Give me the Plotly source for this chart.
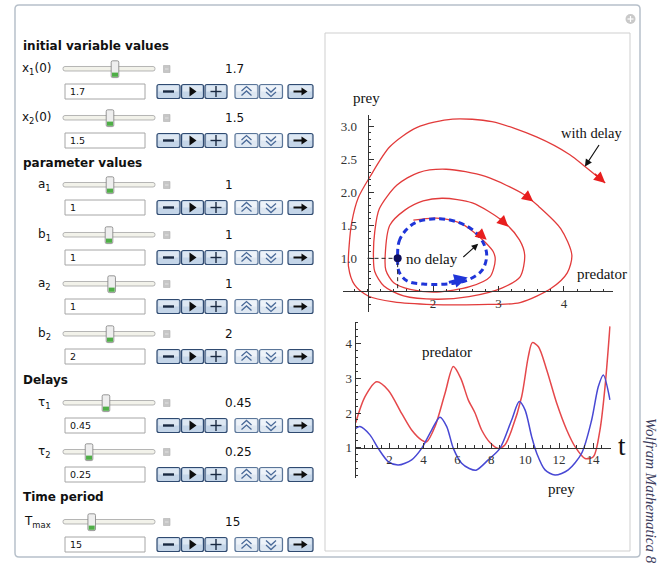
import plotly.graph_objects as go

W, H = 663, 567

# ---------------- data ----------------
# time series (bottom plot)
pred_t = [0, 0.55, 1.24, 1.92, 2.71, 3.30, 3.89, 4.19, 4.68, 5.27, 5.76, 6.2, 6.64, 7.04, 7.43, 7.92,
          8.41, 8.8, 9.2, 9.79, 10.18, 10.42, 10.78, 11.27, 11.86, 12.45, 12.94, 13.53, 14.02, 14.41, 14.71, 15.0]
pred_v = [1.72, 2.47, 2.90, 2.66, 1.99, 1.51, 1.22, 1.17, 1.61, 2.57, 3.34, 3.0, 2.38, 2.0, 1.51, 1.15,
          0.98, 1.08, 1.51, 2.47, 3.62, 4.03, 3.91, 3.24, 2.28, 1.51, 1.03, 0.69, 0.74, 1.51, 2.76, 4.5]
prey_t = [0, 0.25, 0.84, 1.33, 1.92, 2.51, 3.30, 3.89, 4.48, 4.97, 5.37, 5.76, 6.25, 6.7, 7.1, 7.82,
          8.51, 9.2, 9.65, 9.99, 10.38, 10.68, 11.17, 11.76, 12.54, 13.33, 13.92, 14.31, 14.61, 15.0]
prey_v = [1.56, 1.61, 1.37, 0.98, 0.60, 0.50, 0.65, 0.98, 1.51, 1.88, 1.61, 0.98, 0.55, 0.40, 0.35, 0.65,
          0.98, 1.80, 2.33, 2.09, 1.32, 0.84, 0.36, 0.21, 0.36, 0.84, 1.80, 2.76, 3.10, 2.38]

# phase plot, with delay (red spiral): predator (x) vs prey (y)
ph_pred = [1.70, 2.05, 2.40, 2.62, 2.80, 2.92, 2.95, 2.87, 2.56, 2.06, 1.65, 1.40, 1.28, 1.27,
           1.34, 1.57, 1.85, 2.15, 2.60, 3.07, 3.32, 3.40, 3.33, 3.05, 2.55, 2.06, 1.55, 1.25, 1.11, 1.09,
           1.11, 1.18, 1.45, 1.78, 2.20, 2.80, 3.40, 3.61, 3.95, 4.12, 4.05, 3.81, 3.33, 2.70, 2.00, 1.40, 1.01, 0.80, 0.71,
           0.72, 0.76, 0.86, 1.04, 1.34, 1.75, 2.30, 2.90, 3.58, 4.09, 4.32, 4.63]
ph_prey = [1.58, 1.61, 1.54, 1.40, 1.24, 1.10, 0.98, 0.72, 0.57, 0.49, 0.53, 0.63, 0.82, 1.05,
           1.50, 1.73, 1.87, 1.91, 1.84, 1.56, 1.28, 1.05, 0.72, 0.55, 0.42, 0.38, 0.43, 0.58, 0.80, 1.05,
           1.40, 1.75, 2.11, 2.30, 2.35, 2.24, 1.96, 1.79, 1.45, 1.05, 0.78, 0.55, 0.33, 0.30, 0.30, 0.34, 0.43, 0.60, 0.87,
           1.20, 1.55, 1.92, 2.24, 2.69, 2.98, 3.11, 3.07, 2.84, 2.57, 2.39, 2.14]
# arrowheads along the red spiral (tip / tail)
arr_tip_x = [2.82, 3.15, 3.53, 4.63]
arr_tip_y = [1.28, 1.48, 1.86, 2.14]
arr_tail_x = [2.66, 3.00, 3.38, 4.45]
arr_tail_y = [1.42, 1.62, 1.98, 2.30]

# phase plot, no delay (blue dashed orbit)
nd_pred = [1.46, 1.48, 1.58, 1.75, 2.10, 2.40, 2.62, 2.76, 2.82, 2.75, 2.55, 2.30, 1.85, 1.60, 1.48, 1.46]
nd_prey = [1.00, 1.25, 1.42, 1.55, 1.60, 1.54, 1.42, 1.25, 1.05, 0.82, 0.68, 0.62, 0.61, 0.66, 0.80, 1.00]
nd_arrow = [2.22, 0.63, 2.53, 0.71]        # tail x, tail y, tip x, tip y
dot_pt = [1.46, 1.0]
axis_origin = [1.0, 0.5]

# tick labels
ph_xticks = [2, 3, 4]
ph_yticks = [1.0, 1.5, 2.0, 2.5, 3.0]
ts_xticks = [2, 4, 6, 8, 10, 12, 14]
ts_yticks = [1, 2, 3, 4]

# control panel content
sections = ["initial variable values", "parameter values", "Delays", "Time period"]
ctrl_labels = ["x<sub>1</sub>(0)", "x<sub>2</sub>(0)", "a<sub>1</sub>", "b<sub>1</sub>", "a<sub>2</sub>",
               "b<sub>2</sub>", "τ<sub>1</sub>", "τ<sub>2</sub>", "T<sub>max</sub>"]
ctrl_values = ["1.7", "1.5", "1", "1", "1", "2", "0.45", "0.25", "15"]
ctrl_thumb = [0.565, 0.511, 0.511, 0.50, 0.529, 0.511, 0.467, 0.283, 0.312]

# ---------------- layout geometry (pixels) ----------------
section_y = [46, 163, 380, 497]
row_y = [69, 118, 185, 235, 284, 334, 403, 452, 522]

shapes = []
annotations = []


def X(x):
    return x / W


def Y(y):
    return 1 - y / H


def rect(x0, y0, x1, y1, fill, line='rgba(0,0,0,0)', lw=0):
    shapes.append(dict(type='rect', xref='paper', yref='paper', x0=X(x0), x1=X(x1), y0=Y(y1), y1=Y(y0),
                       fillcolor=fill, line=dict(color=line, width=lw), layer='below'))


def poly(pts, fill=None, line=None, lw=0, closed=True):
    d = 'M' + ' L'.join(f'{X(a):.5f},{Y(b):.5f}' for a, b in pts)
    if closed:
        d += ' Z'
    shapes.append(dict(type='path', xref='paper', yref='paper', path=d,
                       fillcolor=fill or 'rgba(0,0,0,0)',
                       line=dict(color=line or 'rgba(0,0,0,0)', width=lw), layer='below'))


def rrect(x0, y0, x1, y1, r, fill, line, lw):
    p = lambda a, b: f'{X(a):.5f},{Y(b):.5f}'
    d = (f'M{p(x0 + r, y0)} L{p(x1 - r, y0)} Q{p(x1, y0)} {p(x1, y0 + r)} L{p(x1, y1 - r)} '
         f'Q{p(x1, y1)} {p(x1 - r, y1)} L{p(x0 + r, y1)} Q{p(x0, y1)} {p(x0, y1 - r)} '
         f'L{p(x0, y0 + r)} Q{p(x0, y0)} {p(x0 + r, y0)} Z')
    shapes.append(dict(type='path', xref='paper', yref='paper', path=d, fillcolor=fill,
                       line=dict(color=line, width=lw), layer='below'))


def text(x, y, s, size, color='#111', family='DejaVu Sans', xanchor='left', angle=0):
    annotations.append(dict(xref='paper', yref='paper', x=X(x), y=Y(y), text=s, showarrow=False,
                            xanchor=xanchor, yanchor='middle', textangle=angle,
                            font=dict(size=size, color=color, family=family)))


# outer frame and plot panel
rrect(15, 5, 640, 557, 4, '#ffffff', '#b7c0ca', 1.5)
rect(325, 33, 630, 551, '#ffffff', '#cfcfcf', 1)
shapes.append(dict(type='circle', xref='paper', yref='paper', x0=X(625.5), x1=X(635.5), y0=Y(24), y1=Y(14),
                   fillcolor='#c9c9c9', line=dict(width=0), layer='below'))
rect(627.5, 18.4, 633.5, 19.6, '#ffffff')
rect(629.9, 16.0, 631.1, 22.0, '#ffffff')

# section headers
for s, yy in zip(sections, section_y):
    text(20.5, yy, f'<b>{s}</b>', 12, '#111')

# buttons
btn_x0 = [157, 181.5, 205, 235, 259.5, 288]
btn_x1 = [180, 203.5, 227, 258, 282.5, 313]
for i, (lab, val, th, cy) in enumerate(zip(ctrl_labels, ctrl_values, ctrl_thumb, row_y)):
    # label and slider
    text(53, cy, lab, 12, '#111', xanchor='right')
    rrect(63, cy - 2.5, 155, cy + 2.0, 2, '#f2f2ea', '#a3a3a3', 0.8)
    tx = 63 + th * 92
    rrect(tx - 3.8, cy - 8.2, tx + 3.8, cy + 8.6, 1.5, '#eeeeee', '#7f7f7f', 0.8)
    rect(tx - 3.0, cy + 3.6, tx + 3.0, cy + 7.8, '#4fae47')
    rect(163.5, cy - 3.5, 170, cy + 3.5, '#c6c6c6', '#b0b0b0', 0.6)
    rect(165, cy - 0.5, 168.5, cy + 0.5, '#e2e2e2')
    text(223, cy, val, 12, '#111')
    # input field
    by = cy + 22.5
    rect(65, by - 7.5, 145, by + 7.5, '#ffffff', '#a6a6a6', 1)
    text(68, by, val, 9.5, '#111')
    # buttons
    for k in range(6):
        x0, x1 = btn_x0[k], btn_x1[k]
        light = k in (3, 4)
        rrect(x0, by - 7, x1, by + 7, 2, '#dfe8f2' if light else '#c4d5e8',
              '#5a7598' if light else '#2f4a70', 1.2)
        rect(x0 + 1.5, by - 5.5, x1 - 1.5, by, '#eef3f9' if light else '#dde7f2')
        cx = (x0 + x1) / 2
        if k == 0:
            rect(cx - 5.5, by - 1.2, cx + 5.5, by + 1.2, '#1a2a42')
        elif k == 1:
            poly([(cx - 3, by - 5), (cx + 4, by), (cx - 3, by + 5)], fill='#0d0d0d')
        elif k == 2:
            rect(cx - 5.5, by - 0.7, cx + 5.5, by + 0.7, '#1a2a42')
            rect(cx - 0.7, by - 5.5, cx + 0.7, by + 5.5, '#1a2a42')
        elif k == 3:
            poly([(cx - 5, by - 0.5), (cx, by - 5), (cx + 5, by - 0.5)], line='#4a6a98', lw=1.3, closed=False)
            poly([(cx - 5, by + 4), (cx, by - 0.5), (cx + 5, by + 4)], line='#4a6a98', lw=1.3, closed=False)
        elif k == 4:
            poly([(cx - 5, by + 0.5), (cx, by + 5), (cx + 5, by + 0.5)], line='#4a6a98', lw=1.3, closed=False)
            poly([(cx - 5, by - 4), (cx, by + 0.5), (cx + 5, by - 4)], line='#4a6a98', lw=1.3, closed=False)
        else:
            rect(cx - 7, by - 1, cx + 2, by + 1, '#0d0d0d')
            poly([(cx + 1, by - 4), (cx + 7, by), (cx + 1, by + 4)], fill='#0d0d0d')

# watermark
text(651, 491, '<i>Wolfram Mathematica 8</i>', 15, '#3b3b5c', family='Liberation Serif', xanchor='center', angle=90)

# plot labels
SERIF = 'Liberation Serif'
text(366.5, 98, 'prey', 15, '#111', SERIF, 'center')
text(592, 133, 'with delay', 14.5, '#111', SERIF, 'center')
text(404, 259, 'no delay', 15, '#111', SERIF, 'left')
text(602, 274, 'predator', 15, '#111', SERIF, 'center')
text(447, 352, 'predator', 15, '#111', SERIF, 'center')
text(561, 489, 'prey', 15, '#111', SERIF, 'center')
text(622, 446, 't', 27, '#111', SERIF, 'center')

# ---------------- axes geometry ----------------
ph_rx, ph_ry = [0.63, 4.75], [0.19, 3.17]
ph_dx = [X(343.3), X(613.1)]
ph_dy = [Y(311.8), Y(115.1)]
ts_rx, ts_ry = [0, 15.05], [0.12, 4.63]
ts_dx = [X(355.7), X(610.8)]
ts_dy = [Y(478.2), Y(321.85)]


def frac(v, r, d):
    return d[0] + (v - r[0]) / (r[1] - r[0]) * (d[1] - d[0])


tickfont = dict(family=SERIF, size=13, color='#333')
axcommon = dict(showline=True, linecolor='#333', linewidth=1, showgrid=False, zeroline=False,
                ticks='inside', ticklen=5, tickwidth=1, tickcolor='#333', tickfont=tickfont, tickmode='array')

fig = go.Figure()

# phase plot traces
fig.add_trace(go.Scatter(x=ph_pred, y=ph_prey, mode='lines', line=dict(color='#e23b3b', width=1.3, shape='spline', smoothing=0.8),
                         xaxis='x', yaxis='y', hoverinfo='skip'))
fig.add_trace(go.Scatter(x=nd_pred, y=nd_prey, mode='lines', line=dict(color='#1f35d8', width=3, dash='6px,4px', shape='spline', smoothing=1),
                         xaxis='x', yaxis='y', hoverinfo='skip'))
fig.add_trace(go.Scatter(x=[axis_origin[0], dot_pt[0], dot_pt[0]], y=[dot_pt[1], dot_pt[1], axis_origin[1]], mode='lines',
                         line=dict(color='#222', width=1, dash='4px,3px'), xaxis='x', yaxis='y', hoverinfo='skip'))
fig.add_trace(go.Scatter(x=[dot_pt[0]], y=[dot_pt[1]], mode='markers', marker=dict(color='#0e0e5c', size=8),
                         xaxis='x', yaxis='y', hoverinfo='skip'))

# time series traces
fig.add_trace(go.Scatter(x=pred_t, y=pred_v, mode='lines', line=dict(color='#e5484b', width=1.5, shape='spline', smoothing=0.8),
                         xaxis='x2', yaxis='y2', hoverinfo='skip'))
fig.add_trace(go.Scatter(x=prey_t, y=prey_v, mode='lines', line=dict(color='#4848d4', width=1.5, shape='spline', smoothing=0.8),
                         xaxis='x2', yaxis='y2', hoverinfo='skip'))

# arrowheads
for tx_, ty_, ax_, ay_ in zip(arr_tip_x, arr_tip_y, arr_tail_x, arr_tail_y):
    annotations.append(dict(xref='x', yref='y', axref='x', ayref='y', x=tx_, y=ty_, ax=ax_, ay=ay_, text='',
                            showarrow=True, arrowhead=2, arrowsize=1.6, arrowwidth=1.4, arrowcolor='#e81e1e'))
annotations.append(dict(xref='x', yref='y', axref='x', ayref='y', x=nd_arrow[2], y=nd_arrow[3], ax=nd_arrow[0], ay=nd_arrow[1],
                        text='', showarrow=True, arrowhead=2, arrowsize=0.9, arrowwidth=3, arrowcolor='#1f35d8'))
# pointer arrows
annotations.append(dict(xref='x', yref='y', axref='x', ayref='y', x=4.32, y=2.39, ax=4.55, ay=2.74, text='',
                        showarrow=True, arrowhead=2, arrowsize=1.2, arrowwidth=1.2, arrowcolor='#111'))
annotations.append(dict(xref='x', yref='y', axref='x', ayref='y', x=2.69, y=1.22, ax=2.44, ay=1.0, text='',
                        showarrow=True, arrowhead=2, arrowsize=1.2, arrowwidth=1.1, arrowcolor='#111'))

fig.update_layout(
    width=W, height=H, margin=dict(l=0, r=0, t=0, b=0),
    paper_bgcolor='#ffffff', plot_bgcolor='rgba(0,0,0,0)', showlegend=False,
    shapes=shapes, annotations=annotations,
    xaxis=dict(domain=ph_dx, range=ph_rx, anchor='free', position=frac(axis_origin[1], ph_ry, ph_dy),
               tickvals=ph_xticks, ticktext=[str(v) for v in ph_xticks],
               minor=dict(tickmode='linear', tick0=0, dtick=0.2, ticks='inside', ticklen=2.5, tickcolor='#333'), **axcommon),
    yaxis=dict(domain=ph_dy, range=ph_ry, anchor='free', position=frac(axis_origin[0], ph_rx, ph_dx),
               tickvals=ph_yticks, ticktext=[f'{v:.1f}' for v in ph_yticks], ticklabelstandoff=8,
               minor=dict(tickmode='linear', tick0=0, dtick=0.1, ticks='inside', ticklen=2.5, tickcolor='#333'), **axcommon),
    xaxis2=dict(domain=ts_dx, range=ts_rx, anchor='free', position=frac(1, ts_ry, ts_dy),
                tickvals=ts_xticks, ticktext=[str(v) for v in ts_xticks],
                minor=dict(tickmode='linear', tick0=0, dtick=0.5, ticks='inside', ticklen=2.5, tickcolor='#333'), **axcommon),
    yaxis2=dict(domain=ts_dy, range=ts_ry, anchor='x2',
                tickvals=ts_yticks, ticktext=[str(v) for v in ts_yticks],
                minor=dict(tickmode='linear', tick0=0, dtick=0.2, ticks='inside', ticklen=2.5, tickcolor='#333'), **axcommon),
)

fig.write_html("out.html", config={'displayModeBar': False},
               post_script="document.body.style.margin='0';document.body.style.overflow='hidden';")
